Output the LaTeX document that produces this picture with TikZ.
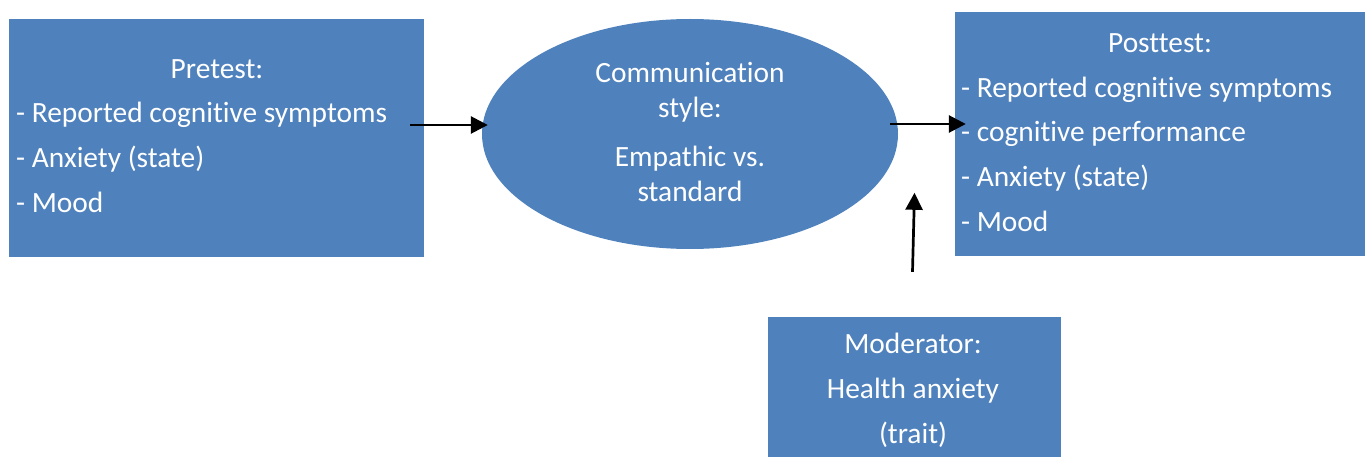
\documentclass[tikz,border=0pt]{standalone}
\usepackage{fontspec}
\setmainfont{Carlito}[RawFeature=-liga]
\usetikzlibrary{calc,arrows.meta,shapes.geometric}
\definecolor{boxblue}{HTML}{4F81BD}

\begin{document}
\begin{tikzpicture}[x=1pt,y=-1pt,
    blk/.style={rectangle, fill=boxblue, inner sep=0pt},
    txt/.style={text=white, inner sep=0pt, font=\fontsize{29.4}{35}\selectfont},
    arr/.style={-{Triangle[length=17pt,width=17pt]}, line width=2.7pt}]
  \useasboundingbox (0,0) rectangle (1365,457);
  % boxes and ellipse
  \node[blk, minimum width=415pt, minimum height=238pt] (pre) at (216.5,138) {};
  \node[ellipse, fill=boxblue, inner sep=0pt, minimum width=416pt, minimum height=230pt] (comm) at (690,134) {};
  \node[blk, minimum width=410pt, minimum height=244pt] (post) at (1160,134) {};
  \node[blk, minimum width=293pt, minimum height=140pt] (mod) at (914.5,387) {};
  % pretest text
  \node[txt, anchor=base] (preT) at (217,79) {Pretest:};
  \node[txt, anchor=base west] (pre1) at (16,123) {- Reported cognitive symptoms};
  \node[txt, anchor=base west] (pre2) at (16,168) {- Anxiety (state)};
  \node[txt, anchor=base west] (pre3) at (16,213) {- Mood};
  % ellipse text
  \node[txt, anchor=base] (comm1) at (690,83) {Communication};
  \node[txt, anchor=base] (comm2) at (690,118) {style:};
  \node[txt, anchor=base] (comm3) at (690,167) {Empathic vs.};
  \node[txt, anchor=base] (comm4) at (690,202) {standard};
  % posttest text
  \node[txt, anchor=base] (postT) at (1160,53) {Posttest:};
  \node[txt, anchor=base west] (post1) at (961,98) {- Reported cognitive symptoms};
  \node[txt, anchor=base west] (post2) at (961,142) {- cognitive performance};
  \node[txt, anchor=base west] (post3) at (961,187) {- Anxiety (state)};
  \node[txt, anchor=base west] (post4) at (961,231) {- Mood};
  % moderator text
  \node[txt, anchor=base] (mod1) at (913,353) {Moderator:};
  \node[txt, anchor=base] (mod2) at (913,398) {Health anxiety};
  \node[txt, anchor=base] (mod3) at (913,443) {(trait)};
  % arrows
  \draw[arr] ($(pre.east)+(-14,-13)$) -- ($(comm.west)+(6,-9)$);
  \draw[arr] ($(comm.east)+(-8,-10)$) -- ($(post.west)+(11,-10)$);
  \draw[arr] ($(mod.north)+(-2,-45)$) -- ($(mod.north)+(0,-124)$);
\end{tikzpicture}
\end{document}
